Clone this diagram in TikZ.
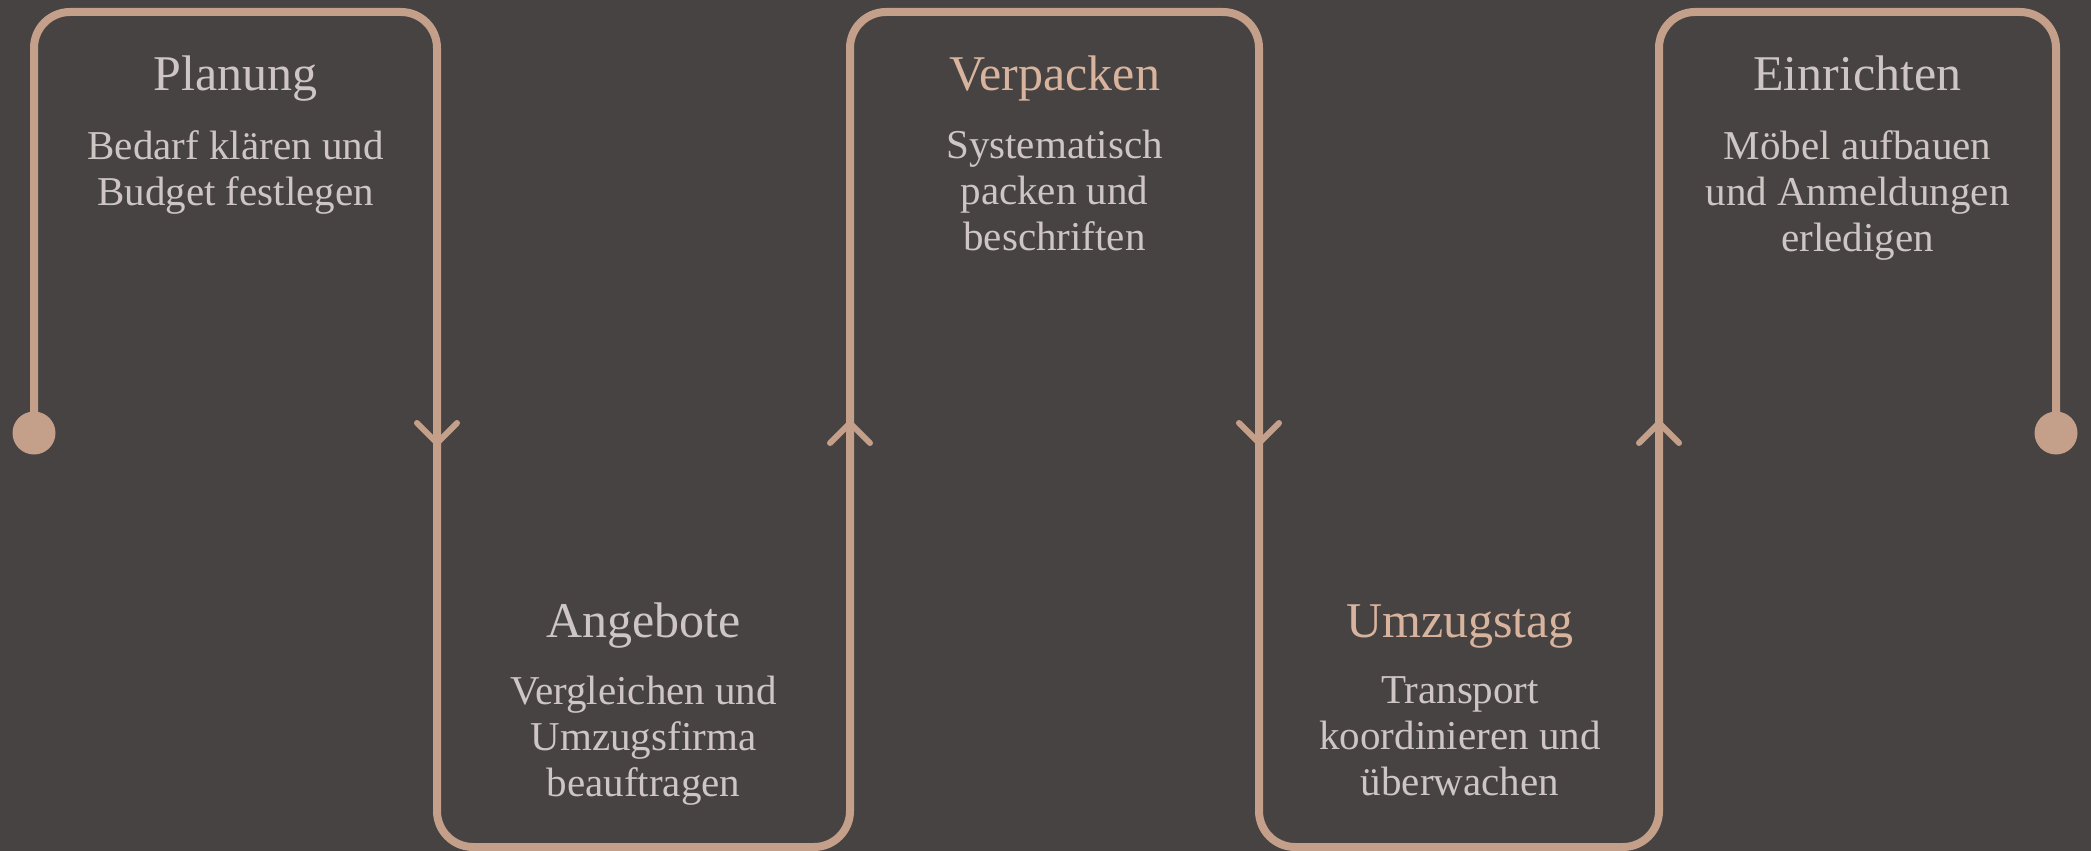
\documentclass[tikz,border=0pt]{standalone}
\usepackage{fontspec}
\setmainfont{Liberation Serif}
\definecolor{bgdark}{HTML}{474342}
\definecolor{copper}{HTML}{C49F89}
\definecolor{ash}{HTML}{CEC6C4}
\definecolor{peach}{HTML}{D8B49E}

\begin{document}
\begin{tikzpicture}[x=1pt,y=-1pt,
  track/.style={copper,line width=8,line cap=round,line join=round,rounded corners=36},
  chevron/.style={copper,line width=6,line cap=round,line join=round},
  steptitle/.style={inner sep=0,anchor=base,text=ash,font=\fontsize{50}{60}\selectfont},
  stepbody/.style={inner sep=0,anchor=north,align=center,text=ash,font=\fontsize{41}{46}\selectfont}]
  \path[use as bounding box,fill=bgdark] (0,0) rectangle (2091,851);

  \foreach \i/\x in {0/34,1/437,2/850,3/1259,4/1659,5/2056}{
    \coordinate (top\i) at (\x,12);
    \coordinate (bot\i) at (\x,847);
    \coordinate (mid\i) at (\x,433);
  }

  % serpentine track
  \draw[track] (mid0) -- (top0) -- (top1) -- (bot1) -- (bot2) -- (top2) -- (top3)
    -- (bot3) -- (bot4) -- (top4) -- (top5) -- (mid5);
  \fill[copper] (mid0) circle (21.5);
  \fill[copper] (mid5) circle (21.5);

  \foreach \i/\s in {1/1,2/-1,3/1,4/-1}{
    \draw[chevron,shift={(mid\i)}] (-20,-10*\s) -- (0,10*\s) -- (20,-10*\s);
  }

  % steps
  \node[steptitle] (planung) at (235.5,90) {Planung};
  \node[stepbody] (planungtxt) at (235.5,130) {Bedarf klären und\\Budget festlegen};

  \node[steptitle] (angebote) at (643.5,637) {Angebote};
  \node[stepbody] (angebotetxt) at (643.5,676) {Vergleichen und\\Umzugsfirma\\beauftragen};

  \node[steptitle,text=peach] (verpacken) at (1054.5,90) {Verpacken};
  \node[stepbody] (verpackentxt) at (1054.5,130) {Systematisch\\packen und\\beschriften};

  \node[steptitle,text=peach] (umzugstag) at (1460,637) {Umzugstag};
  \node[stepbody] (umzugstagtxt) at (1460,676) {Transport\\koordinieren und\\überwachen};

  \node[steptitle] (einrichten) at (1857.5,90) {Einrichten};
  \node[stepbody] (einrichtentxt) at (1857.5,130) {Möbel aufbauen\\und Anmeldungen\\erledigen};
\end{tikzpicture}
\end{document}
